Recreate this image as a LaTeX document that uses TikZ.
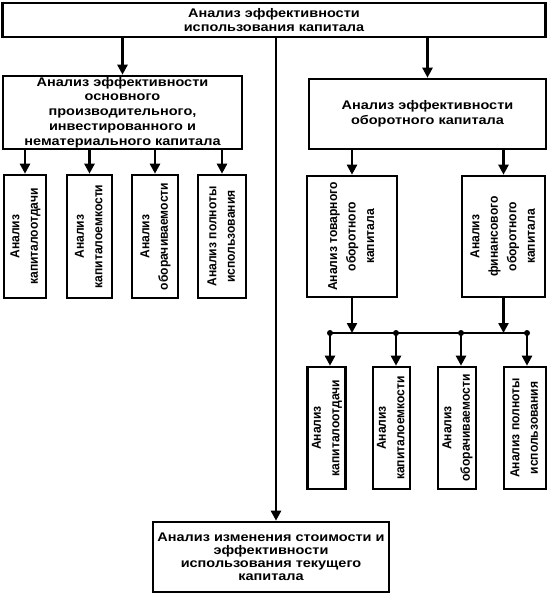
\documentclass[tikz,border=0pt]{standalone}
\usepackage{fontspec}
\usepackage{graphicx}
\setmainfont{Liberation Sans}
\newfontfamily\narrowfont[FakeStretch=0.93]{Liberation Sans}
\newfontfamily\widefont[FakeStretch=1.16]{Liberation Sans}
\usetikzlibrary{arrows.meta}
\begin{document}
\begin{tikzpicture}[x=1pt,y=-1pt,
  box/.style={draw,line width=2.6pt,inner sep=0pt,align=center,
    font=\widefont\fontsize{12.5}{14.5}\selectfont\bfseries},
  vbox/.style={draw,line width=2.6pt,inner sep=0pt,
    font=\narrowfont\fontsize{13}{18.5}\selectfont\bfseries},
  arr/.style={line width=2.4pt,-{Triangle[length=10pt,width=10pt]}},
  ln/.style={line width=2.4pt},
  dot/.style={circle,fill=black,inner sep=0pt,minimum size=6pt}]
\useasboundingbox (0,0) rectangle (550,600);
\newcommand{\vt}[1]{\rotatebox{90}{\begin{tabular}{@{}c@{}}#1\end{tabular}}}
% top
\node[box,minimum width=543pt,minimum height=34pt,
  font=\widefont\fontsize{12.5}{14}\selectfont\bfseries] (top) at (274,20)
  {Анализ эффективности\\использования капитала};
\node[box,minimum width=239pt,minimum height=73pt,
  font=\widefont\fontsize{12.5}{14.8}\selectfont\bfseries] (lbig) at (122.5,112.5)
  {Анализ эффективности\\основного\\производительного,\\инвестированного и\\нематериального капитала};
\node[box,minimum width=237pt,minimum height=70pt] (rbig) at (427.5,114)
  {Анализ эффективности\\оборотного капитала};
\node[box,minimum width=236pt,minimum height=70pt,
  font=\widefont\fontsize{12.5}{13}\selectfont\bfseries] (bot) at (271,557)
  {Анализ изменения стоимости и\\эффективности\\использования текущего\\капитала};
% left small boxes
\node[vbox,minimum width=42pt,minimum height=123pt] (l1) at (25,236.5) {\vt{Анализ\\капиталоотдачи}};
\node[vbox,minimum width=45pt,minimum height=123pt] (l2) at (89.5,236.5) {\vt{Анализ\\капиталоемкости}};
\node[vbox,minimum width=46pt,minimum height=123pt] (l3) at (155,236.5) {\vt{Анализ\\оборачиваемости}};
\node[vbox,minimum width=48pt,minimum height=123pt] (l4) at (222,236.5) {\vt{Анализ полноты\\использования}};
% right middle boxes
\node[vbox,minimum width=90pt,minimum height=121pt] (prod) at (352,236.5) {\vt{Анализ товарного\\оборотного\\капитала}};
\node[vbox,minimum width=83pt,minimum height=121pt] (fin) at (503.5,236.5) {\vt{Анализ\\финансового\\оборотного\\капитала}};
% right small boxes
\node[vbox,minimum width=38pt,minimum height=122pt] (r1) at (326.5,428) {\vt{Анализ\\капиталоотдачи}};
\node[vbox,minimum width=37pt,minimum height=122pt] (r2) at (391.5,428) {\vt{Анализ\\капиталоемкости}};
\node[vbox,minimum width=38pt,minimum height=122pt] (r3) at (457,428) {\vt{Анализ\\оборачиваемости}};
\node[vbox,minimum width=42pt,minimum height=122pt] (r4) at (525,428) {\vt{Анализ полноты\\использования}};
% bus dots
\node[dot] (d1) at (330,333) {};
\node[dot] (d2) at (396,333) {};
\node[dot] (d3) at (461,333) {};
\node[dot] (d4) at (527,333) {};
% connectors
\draw[arr] (top.south -| lbig.north) -- (lbig.north);
\draw[arr] (top.south -| rbig.north) -- (rbig.north);
\draw[arr] (top.south -| 276,0) -- (bot.north -| 276,0);
\foreach \b in {l1,l2,l3,l4}{
  \draw[arr] (lbig.south -| \b.north) -- (\b.north);
}
\draw[arr] (rbig.south -| prod.north) -- (prod.north);
\draw[arr] (rbig.south -| fin.north) -- (fin.north);
\draw[ln] (d1.center) -- (d4.center);
\draw[arr] (prod.south) -- (prod.south |- d1.center);
\draw[arr] (fin.south) -- (fin.south |- d1.center);
\draw[arr] (d1.center) -- (d1.center |- r1.north);
\draw[arr] (d2.center) -- (d2.center |- r2.north);
\draw[arr] (d3.center) -- (d3.center |- r3.north);
\draw[arr] (d4.center) -- (d4.center |- r4.north);
\end{tikzpicture}
\end{document}
